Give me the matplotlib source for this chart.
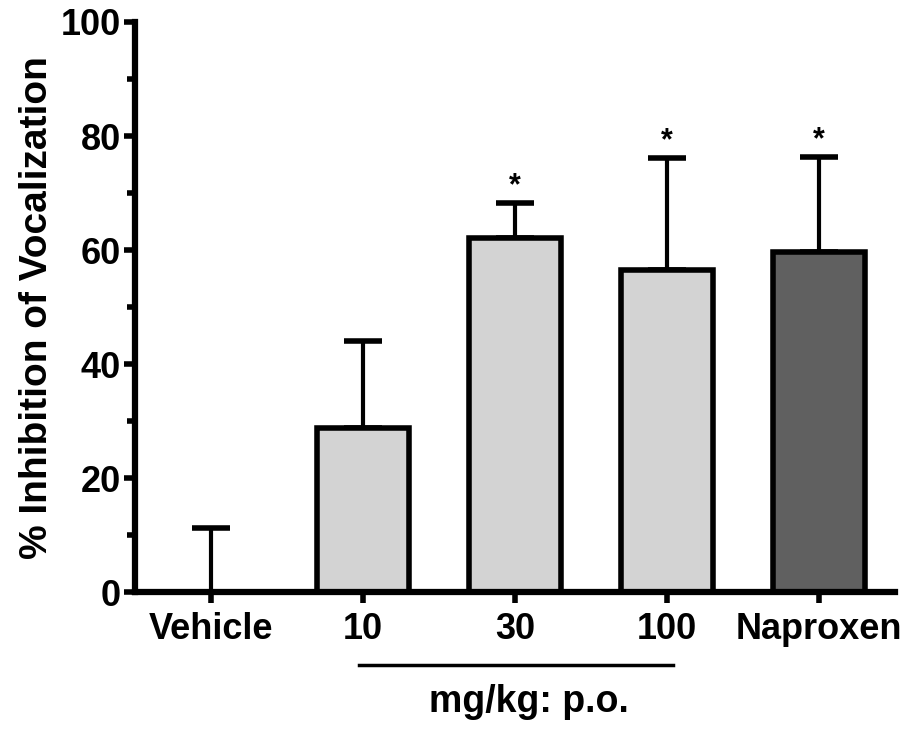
import matplotlib.pyplot as plt
from matplotlib.lines import Line2D

plt.rcParams['font.family'] = ['Liberation Sans', 'DejaVu Sans']
plt.rcParams['font.weight'] = 'bold'

categories = ["Vehicle", "10", "30", "100", "Naproxen"]
means = [0.0, 28.8, 62.1, 56.5, 59.7]
errors = [11.2, 15.2, 6.1, 19.6, 16.6]
colors = ["#d3d3d3", "#d3d3d3", "#d3d3d3", "#d3d3d3", "#606060"]
significant = [False, False, True, True, True]

fig = plt.figure(figsize=(9.19, 7.32), dpi=100)
ax = fig.add_axes([0.147, 0.191, 0.827, 0.779])

x = list(range(len(categories)))
ax.bar(x, means, width=0.61, color=colors, edgecolor="black", linewidth=4, zorder=2)
ax.errorbar(x, means, yerr=[[0] * len(errors), errors], fmt="none", ecolor="black",
            elinewidth=3, capsize=14, capthick=4, zorder=1)

for xi, m, e, s in zip(x, means, errors, significant):
    if s:
        ax.text(xi, m + e + 0.3, "*", ha="center", va="bottom", fontsize=22, fontweight="bold")

ax.set_xlim(-0.5, 4.5)
ax.set_ylim(0, 100)
ax.set_yticks([0, 20, 40, 60, 80, 100])
ax.set_yticks([10, 30, 50, 70, 90], minor=True)
ax.set_xticks(x)
ax.set_xticklabels(categories)
ax.tick_params(axis="both", which="major", direction="out", width=4, length=8, labelsize=26)
ax.tick_params(axis="y", which="minor", direction="out", width=4, length=6)
ax.tick_params(axis="x", pad=6)
ax.tick_params(axis="y", pad=2)
for lab in ax.get_xticklabels() + ax.get_yticklabels():
    lab.set_fontweight("bold")

for side in ["top", "right"]:
    ax.spines[side].set_visible(False)
for side in ["left", "bottom"]:
    ax.spines[side].set_linewidth(4.5)

ax.set_ylabel("% Inhibition of Vocalization", fontsize=28, fontweight="bold", labelpad=4)

# dose group line and label
fig.add_artist(Line2D([0.391, 0.732], [0.0915, 0.0915], color="black", linewidth=2.5,
                      transform=fig.transFigure))
fig.text(0.576, 0.041, "mg/kg: p.o.", ha="center", va="center", fontsize=27, fontweight="bold")

fig.savefig("out.png", dpi=100)
